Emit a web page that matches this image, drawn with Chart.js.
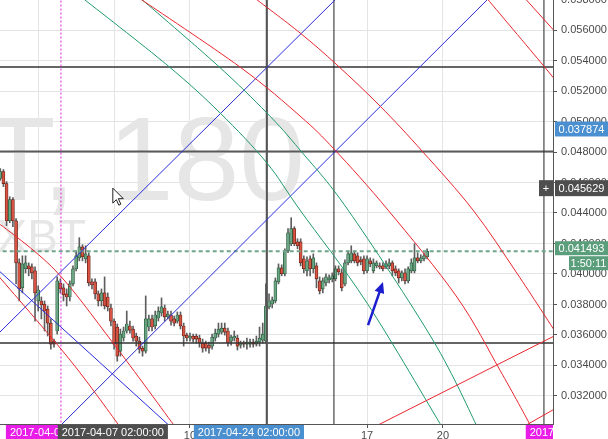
<!DOCTYPE html>
<html>
<head>
<meta charset="utf-8">
<script src="https://cdn.jsdelivr.net/npm/chart.js@4/dist/chart.umd.min.js"></script>
<style>
  html, body { margin: 0; padding: 0; background: #fff; }
  #wrap { width: 608px; height: 439px; }
</style>
</head>
<body>
<div id="wrap"><canvas id="chart" width="608" height="439"></canvas></div>
<script>
// 3h candles, x in April-2017 days
const candleStartDay = 2.5;
const barHours = 3;

const opens = [
  0.04626, 0.04672, 0.04593, 0.04349, 0.04488, 0.04349, 0.04073, 0.03909, 0.04034, 0.04053,
  0.04047, 0.04020, 0.03823, 0.03823, 0.03803, 0.03770, 0.03678, 0.03560, 0.03626, 0.03941,
  0.03909, 0.03869, 0.03849, 0.03935, 0.04034, 0.04106, 0.04178, 0.04099, 0.04119, 0.03948,
  0.03948, 0.03869, 0.03823, 0.03876, 0.03849, 0.03777, 0.03691, 0.03652, 0.03494, 0.03580,
  0.03626, 0.03659, 0.03639, 0.03593, 0.03560, 0.03514, 0.03494, 0.03652, 0.03705, 0.03659,
  0.03711, 0.03744, 0.03777, 0.03718, 0.03731, 0.03705, 0.03691, 0.03731, 0.03659, 0.03599,
  0.03580, 0.03593, 0.03593, 0.03580, 0.03547, 0.03547, 0.03533, 0.03527, 0.03580, 0.03606,
  0.03619, 0.03645, 0.03626, 0.03560, 0.03580, 0.03580, 0.03533, 0.03547, 0.03540, 0.03540,
  0.03553, 0.03540, 0.03553, 0.03566, 0.03560, 0.03784, 0.03803, 0.03823, 0.03948, 0.04040,
  0.04001, 0.04152, 0.04198, 0.04297, 0.04211, 0.04211, 0.04099, 0.04020, 0.04099, 0.04034,
  0.04053, 0.03955, 0.03902, 0.03941, 0.03961, 0.03968, 0.03968, 0.04034, 0.04007, 0.03935,
  0.04073, 0.04086, 0.04132, 0.04119, 0.04093, 0.04099, 0.04020, 0.04086, 0.04020, 0.04053,
  0.04053, 0.04053, 0.04047, 0.04053, 0.04073, 0.04034, 0.04020, 0.03974, 0.04007, 0.03955,
  0.04020, 0.04020, 0.04106, 0.04086, 0.04099, 0.04113
];
const highs = [
  0.04692, 0.04685, 0.04606, 0.04507, 0.04501, 0.04363, 0.04099, 0.04119, 0.04119, 0.04073,
  0.04066, 0.04047, 0.03922, 0.03849, 0.03823, 0.03790, 0.03705, 0.03573, 0.03981, 0.03968,
  0.03935, 0.03902, 0.03955, 0.04053, 0.04152, 0.04238, 0.04192, 0.04185, 0.04139, 0.03968,
  0.03968, 0.03889, 0.03902, 0.03981, 0.03876, 0.03803, 0.03705, 0.03672, 0.03639, 0.03652,
  0.03757, 0.03691, 0.03659, 0.03612, 0.03586, 0.03527, 0.03856, 0.03731, 0.03731, 0.03757,
  0.03784, 0.03843, 0.03797, 0.03757, 0.03757, 0.03724, 0.03751, 0.03751, 0.03678, 0.03612,
  0.03612, 0.03606, 0.03606, 0.03599, 0.03573, 0.03560, 0.03553, 0.03606, 0.03639, 0.03678,
  0.03678, 0.03678, 0.03645, 0.03599, 0.03626, 0.03599, 0.03560, 0.03560, 0.03580, 0.03573,
  0.03573, 0.03593, 0.03652, 0.03678, 0.03935, 0.03869, 0.03849, 0.03974, 0.04066, 0.04060,
  0.04165, 0.04297, 0.04369, 0.04310, 0.04231, 0.04231, 0.04119, 0.04113, 0.04119, 0.04132,
  0.04073, 0.03981, 0.03974, 0.04001, 0.03994, 0.04007, 0.04053, 0.04053, 0.04034, 0.04093,
  0.04152, 0.04185, 0.04152, 0.04139, 0.04113, 0.04119, 0.04119, 0.04106, 0.04099, 0.04086,
  0.04073, 0.04073, 0.04086, 0.04099, 0.04086, 0.04053, 0.04034, 0.04020, 0.04034, 0.04047,
  0.04099, 0.04198, 0.04139, 0.04126, 0.04139, 0.04165
];
const lows = [
  0.04613, 0.04573, 0.04317, 0.04336, 0.04310, 0.03935, 0.03823, 0.03876, 0.04007, 0.03988,
  0.03968, 0.03691, 0.03757, 0.03705, 0.03626, 0.03593, 0.03507, 0.03520, 0.03606, 0.03876,
  0.03823, 0.03790, 0.03823, 0.03922, 0.04020, 0.04086, 0.04086, 0.04073, 0.03922, 0.03902,
  0.03836, 0.03790, 0.03790, 0.03770, 0.03757, 0.03659, 0.03507, 0.03428, 0.03461, 0.03560,
  0.03612, 0.03612, 0.03560, 0.03527, 0.03481, 0.03461, 0.03481, 0.03626, 0.03626, 0.03639,
  0.03691, 0.03724, 0.03691, 0.03705, 0.03665, 0.03659, 0.03678, 0.03639, 0.03527, 0.03560,
  0.03560, 0.03553, 0.03547, 0.03520, 0.03487, 0.03494, 0.03481, 0.03507, 0.03560, 0.03586,
  0.03606, 0.03599, 0.03527, 0.03533, 0.03560, 0.03501, 0.03514, 0.03520, 0.03507, 0.03520,
  0.03520, 0.03527, 0.03527, 0.03547, 0.03547, 0.03770, 0.03777, 0.03810, 0.03935, 0.03988,
  0.03988, 0.04139, 0.04185, 0.04185, 0.04165, 0.04053, 0.04007, 0.03988, 0.03988, 0.04007,
  0.03909, 0.03869, 0.03876, 0.03922, 0.03941, 0.03948, 0.03955, 0.03994, 0.03889, 0.03922,
  0.04060, 0.04073, 0.04073, 0.04053, 0.04060, 0.04001, 0.04007, 0.04047, 0.04007, 0.04040,
  0.04034, 0.04020, 0.04034, 0.04034, 0.03988, 0.03988, 0.03941, 0.03955, 0.03935, 0.03941,
  0.04007, 0.04007, 0.04073, 0.04073, 0.04086, 0.04099
];
const closes = [
  0.04672, 0.04593, 0.04349, 0.04488, 0.04349, 0.04073, 0.03902, 0.04066, 0.04073, 0.04034,
  0.04007, 0.03876, 0.03895, 0.03797, 0.03757, 0.03678, 0.03540, 0.03540, 0.03955, 0.03902,
  0.03863, 0.03849, 0.03935, 0.04034, 0.04119, 0.04178, 0.04113, 0.04132, 0.03941, 0.03928,
  0.03869, 0.03823, 0.03876, 0.03790, 0.03784, 0.03691, 0.03540, 0.03461, 0.03606, 0.03626,
  0.03672, 0.03632, 0.03580, 0.03560, 0.03507, 0.03494, 0.03705, 0.03705, 0.03652, 0.03731,
  0.03757, 0.03784, 0.03718, 0.03737, 0.03691, 0.03678, 0.03731, 0.03659, 0.03593, 0.03580,
  0.03593, 0.03573, 0.03573, 0.03547, 0.03514, 0.03514, 0.03514, 0.03586, 0.03612, 0.03639,
  0.03645, 0.03619, 0.03547, 0.03586, 0.03593, 0.03527, 0.03547, 0.03540, 0.03553, 0.03553,
  0.03540, 0.03560, 0.03580, 0.03606, 0.03790, 0.03823, 0.03830, 0.03955, 0.04040, 0.04001,
  0.04152, 0.04270, 0.04297, 0.04198, 0.04185, 0.04073, 0.04034, 0.04086, 0.04034, 0.04106,
  0.03968, 0.03889, 0.03955, 0.03981, 0.03974, 0.03988, 0.04034, 0.04014, 0.03909, 0.04073,
  0.04132, 0.04139, 0.04086, 0.04073, 0.04080, 0.04020, 0.04099, 0.04066, 0.04073, 0.04073,
  0.04047, 0.04034, 0.04066, 0.04073, 0.04020, 0.04007, 0.03974, 0.04007, 0.03955, 0.04034,
  0.04073, 0.04106, 0.04086, 0.04106, 0.04119, 0.04149
];

// axes
const gridDays = [4, 7, 10, 13, 17, 20, 24];
const dayNames = ['4', '7', '10', '13', '17', '20', '24'];
const priceTicks = [0.032, 0.034, 0.036, 0.038, 0.040, 0.042, 0.044, 0.046, 0.048, 0.050, 0.052, 0.054, 0.056, 0.058];

// drawings: [day, price] points
const hLevels = [0.05357, 0.04804, 0.03547];
const vDays = [13.04, 15.69, 23.99];
const magentaDay = 4.90;
const lastPrice = 0.041493;

const blueLines = [
  [[2.33, 0.03593], [15.89, 0.05823]],
  [[4.78, 0.02989], [21.74, 0.05797]],
  [[2.33, 0.04039], [9.29, 0.02989]]
];
const greenArcs = [
  [[5.65, 0.05823], [9.09, 0.05371], [11.19, 0.05056], [13.04, 0.04728], [14.35, 0.04419], [17.0, 0.03809], [19.99, 0.02989]],
  [[7.94, 0.05823], [11.07, 0.05371], [13.04, 0.05056], [14.35, 0.04813], [16.25, 0.04419], [19.6, 0.03567], [21.38, 0.02989]]
];
const redArcs = [
  [[7.87, 0.05823], [11.98, 0.05357], [14.35, 0.05036], [15.73, 0.04813], [17.83, 0.04419], [20.55, 0.03849], [22.25, 0.0337], [23.52, 0.02989]],
  [[12.45, 0.05823], [14.35, 0.05581], [15.81, 0.05371], [17.51, 0.05102], [19.21, 0.048], [21.19, 0.04419], [22.92, 0.04006], [24.55, 0.03593]],
  [[21.66, 0.05823], [23.95, 0.05371], [24.62, 0.05233]],
  [[23.16, 0.05823], [24.62, 0.05554]],
  [[2.33, 0.04347], [4.66, 0.04026], [6.96, 0.03547], [9.45, 0.02989]],
  [[2.33, 0.04006], [5.26, 0.03435], [7.27, 0.02989]]
];
const redRays = [
  [[17.19, 0.02989], [24.62, 0.03612]],
  [[23.08, 0.02989], [24.62, 0.03134]]
];
const arrowTail = [17.04, 0.03665];
const arrowTip = [17.63, 0.03947];
const crosshair = [6.95, 0.045629];

// labels
const watermark = ['ETHXBT, 180', 'Ethereum / XBT'];
const priceBadgeTexts = ['0.037874', '0.045629', '0.041493'];
const countdownText = '1:50:11';
const timeBadgeTexts = ['2017-04-05 02:00:00', '2017-04-07 02:00:00', '2017-04-24 02:00:00', '2017-04-25 02:00:00'];

const UP = '#6ba583', DOWN = '#d75442';
const FONT = '"Liberation Sans", Arial, sans-serif';
const dayOf = i => candleStartDay + i * barHours / 24;

const datasets = [
  {
    type: 'bar', order: 2, grouped: false, barThickness: 1,
    data: opens.map((o, i) => ({ x: dayOf(i), y: [lows[i], highs[i]] })),
    backgroundColor: '#5e5e5e'
  },
  {
    type: 'bar', order: 1, grouped: false, barThickness: 3, minBarLength: 1,
    data: opens.map((o, i) => ({ x: dayOf(i), y: [o, closes[i]] })),
    backgroundColor: opens.map((o, i) => closes[i] >= o ? UP : DOWN),
    borderColor: opens.map((o, i) => closes[i] >= o ? '#225437' : '#5b1a13'),
    borderWidth: 0.7, borderSkipped: false
  }
];

// stroke a drawing given in [day, price] through the chart scales
function strokeDrawing(chart, points, color, width, smooth, dash) {
  const { ctx } = chart;
  const xs = chart.scales.x, ys = chart.scales.y;
  const p = points.map(([d, v]) => [xs.getPixelForValue(d), ys.getPixelForValue(v)]);
  ctx.save();
  ctx.strokeStyle = color;
  ctx.lineWidth = width;
  ctx.setLineDash(dash || []);
  ctx.beginPath();
  ctx.moveTo(p[0][0], p[0][1]);
  for (let i = 0; i < p.length - 1; i++) {
    if (smooth && p.length > 2) {
      const a = p[Math.max(i - 1, 0)], b = p[i], c = p[i + 1], d = p[Math.min(i + 2, p.length - 1)];
      ctx.bezierCurveTo(b[0] + (c[0] - a[0]) / 6, b[1] + (c[1] - a[1]) / 6,
                        c[0] - (d[0] - b[0]) / 6, c[1] - (d[1] - b[1]) / 6, c[0], c[1]);
    } else {
      ctx.lineTo(p[i + 1][0], p[i + 1][1]);
    }
  }
  ctx.stroke();
  ctx.restore();
}

function box(ctx, x, y, w, h, bg, text) {
  ctx.fillStyle = bg;
  ctx.fillRect(x, y, w, h);
  ctx.fillStyle = '#fff';
  ctx.textAlign = 'center';
  ctx.textBaseline = 'middle';
  ctx.fillText(text, x + w / 2, y + h / 2 + 0.5);
}

const overlay = {
  id: 'overlay',
  beforeDatasetsDraw(chart) {
    const { ctx, chartArea: a } = chart;
    ctx.save();
    ctx.beginPath();
    ctx.rect(a.left, a.top, a.right - a.left, a.bottom - a.top);
    ctx.clip();
    ctx.fillStyle = '#e6e6e6';
    ctx.textAlign = 'right';
    ctx.textBaseline = 'alphabetic';
    ctx.font = '118px ' + FONT;
    ctx.fillText(watermark[0], 305, 200);
    ctx.font = '46px ' + FONT;
    ctx.fillText(watermark[1], 86, 252);
    ctx.restore();
    ctx.beginPath();
  },
  afterDatasetsDraw(chart) {
    const { ctx, chartArea: a } = chart;
    const xs = chart.scales.x, ys = chart.scales.y;
    const lo = ys.min - 0.002, hi = ys.max + 0.002, left = xs.min - 1, right = xs.max + 1;
    ctx.save();
    ctx.beginPath();
    ctx.rect(a.left, a.top, a.right - a.left, a.bottom - a.top);
    ctx.clip();
    ctx.beginPath();

    hLevels.forEach((v, i) => strokeDrawing(chart, [[left, v], [right, v]], ['#333', '#5a5a5a', '#333'][i], [1.5, 2, 1.5][i]));
    vDays.forEach((d, i) => strokeDrawing(chart, [[d, lo], [d, hi]], ['#555', '#222', '#333'][i], [2, 1, 1][i]));
    strokeDrawing(chart, [[magentaDay, lo], [magentaDay, hi]], '#e020e0', 1, false, [2, 2]);
    strokeDrawing(chart, [[left, lastPrice], [right, lastPrice]], '#6fa58a', 2, false, [4, 3]);
    blueLines.forEach(l => strokeDrawing(chart, l, '#2b2bdc', 1));
    greenArcs.forEach(l => strokeDrawing(chart, l, '#1f9a6a', 1, true));
    redArcs.forEach(l => strokeDrawing(chart, l, '#e8262f', 1, true));
    redRays.forEach(l => strokeDrawing(chart, l, '#e8262f', 1));

    // annotation arrow
    const x0 = xs.getPixelForValue(arrowTail[0]), y0 = ys.getPixelForValue(arrowTail[1]);
    const x1 = xs.getPixelForValue(arrowTip[0]), y1 = ys.getPixelForValue(arrowTip[1]);
    const len = Math.hypot(x1 - x0, y1 - y0);
    const ux = (x1 - x0) / len, uy = (y1 - y0) / len;
    ctx.strokeStyle = '#1d1dd0';
    ctx.fillStyle = '#1d1dd0';
    ctx.lineWidth = 2.5;
    ctx.setLineDash([]);
    ctx.beginPath();
    ctx.moveTo(x0, y0);
    ctx.lineTo(x1 - 8 * ux, y1 - 8 * uy);
    ctx.stroke();
    ctx.beginPath();
    ctx.moveTo(x1, y1);
    ctx.lineTo(x1 - 11 * ux + 5 * uy, y1 - 11 * uy - 5 * ux);
    ctx.lineTo(x1 - 11 * ux - 5 * uy, y1 - 11 * uy + 5 * ux);
    ctx.closePath();
    ctx.fill();

    // mouse pointer at the crosshair
    const cx = xs.getPixelForValue(crosshair[0]), cy = ys.getPixelForValue(crosshair[1]);
    const shape = [[0, 0], [0, 15], [3.5, 11.5], [6, 17], [8, 16], [5.5, 10.5], [10.5, 10.5]];
    ctx.beginPath();
    ctx.moveTo(cx, cy);
    for (let k = 1; k < shape.length; k++) ctx.lineTo(cx + shape[k][0], cy + shape[k][1]);
    ctx.closePath();
    ctx.fillStyle = '#fff';
    ctx.fill();
    ctx.strokeStyle = '#222';
    ctx.lineWidth = 1;
    ctx.stroke();
    ctx.restore();
    ctx.beginPath();
  },
  afterDraw(chart) {
    const { ctx, chartArea: a } = chart;
    const xs = chart.scales.x, ys = chart.scales.y;
    ctx.save();
    ctx.font = '11px ' + FONT;
    // price badges on the right axis
    const rx = a.right + 2, rw = chart.width - rx;
    box(ctx, rx, ys.getPixelForValue(0.04951) - 7.5, rw, 15, '#4a8fcf', priceBadgeTexts[0]);
    const chY = ys.getPixelForValue(crosshair[1]);
    box(ctx, rx, chY - 8, rw, 16, '#4e4e4e', priceBadgeTexts[1]);
    box(ctx, a.right - 14, chY - 8, 14, 16, '#4e4e4e', '+');
    const lpY = ys.getPixelForValue(lastPrice);
    box(ctx, rx, lpY - 10, rw, 14, '#5b9e7b', priceBadgeTexts[2]);
    box(ctx, chart.width - 39, lpY + 5, 39, 14, '#5b9e7b', countdownText);
    // time badges on the bottom axis
    const by = a.bottom + 1, bh = chart.height - by;
    ctx.beginPath();
    ctx.rect(0, by, a.right, bh);
    ctx.clip();
    const centers = [magentaDay, crosshair[0], 12.33, 25.45];
    const colors = ['#e81ee8', '#4e4e4e', '#4a8fcf', '#e81ee8'];
    [0, 3, 2, 1].forEach(i => {
      const w = ctx.measureText(timeBadgeTexts[i]).width + 8;
      const c = xs.getPixelForValue(centers[i]);
      box(ctx, c - w / 2, by, w, bh, colors[i], timeBadgeTexts[i]);
    });
    ctx.restore();
    ctx.beginPath();
  }
};

new Chart(document.getElementById('chart'), {
  type: 'bar',
  data: { datasets },
  options: {
    responsive: false,
    animation: false,
    events: [],
    layout: { padding: 0 },
    plugins: { legend: { display: false }, tooltip: { enabled: false } },
    scales: {
      x: {
        type: 'linear', min: 2.49, max: 24.35, offset: false,
        grid: { color: '#e4e4e4', tickColor: '#555', tickLength: 4, offset: false },
        border: { color: '#555' },
        ticks: {
          autoSkip: false, maxRotation: 0, padding: 1, color: '#4a4a4a',
          font: { family: FONT, size: 11 },
          callback: (v) => { const k = gridDays.indexOf(v); return k >= 0 ? dayNames[k] : ''; }
        },
        afterBuildTicks: s => { s.ticks = gridDays.map(v => ({ value: v })); },
        afterFit: s => { s.height = 15; s.paddingLeft = 0; s.paddingRight = 0; }
      },
      y: {
        type: 'linear', position: 'right', min: 0.03016, max: 0.05797, beginAtZero: false,
        grid: { color: '#e4e4e4', tickColor: '#555', tickLength: 4 },
        border: { color: '#555' },
        ticks: { padding: 4, color: '#4a4a4a', font: { family: FONT, size: 11 }, callback: v => v.toFixed(6) },
        afterBuildTicks: s => { s.ticks = priceTicks.map(v => ({ value: v })); },
        afterFit: s => { s.width = 55; s.paddingTop = 0; s.paddingBottom = 0; }
      }
    }
  },
  plugins: [overlay]
});
</script>
</body>
</html>
